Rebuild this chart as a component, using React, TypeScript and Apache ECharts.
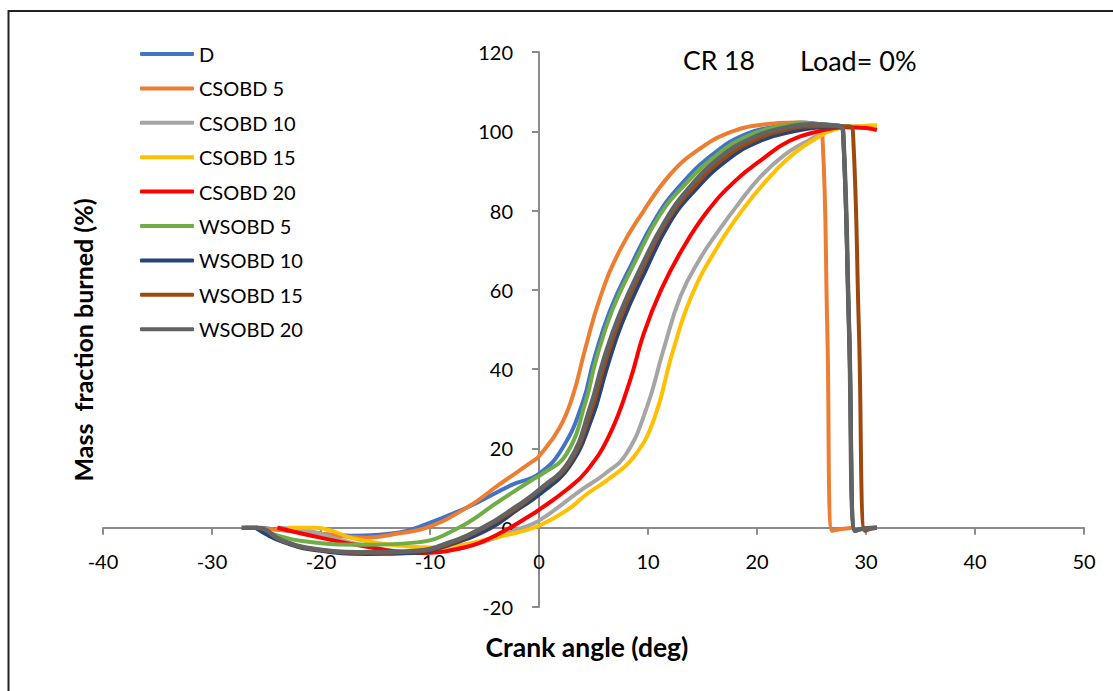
import React, { useEffect, useRef } from 'react';
import * as echarts from 'echarts';

// ---- Data (crank angle [deg], mass fraction burned [%]) ----
const SERIES_NAMES = ['D', 'CSOBD 5', 'CSOBD 10', 'CSOBD 15', 'CSOBD 20', 'WSOBD 5', 'WSOBD 10', 'WSOBD 15', 'WSOBD 20'];
const SERIES_COLORS = ['#4472C4', '#ED7D31', '#A5A5A5', '#FFC000', '#FF0000', '#70AD47', '#264478', '#9E480E', '#636363'];

const D_DATA: [number, number][] = [
  [-25.5, 0], [-22, -1], [-17.3, -2], [-12.8, -1.2], [-11.2, 0], [-6.6, 5.1], [-2.5, 10.8], [0, 13.6],
  [2.2, 20.3], [4.06, 32], [5, 42], [6.5, 54.7], [8.5, 66.5], [10.7, 78], [12.9, 86.2],
  [16, 94.3], [19, 99.3], [22.1, 101.4], [24, 102.2], [26, 101.8], [28, 101.3],
];
const CSOBD5_DATA: [number, number][] = [
  [-26, 0], [-20.4, -1.4], [-15.8, -2.5], [-12.8, -1.4], [-10.3, 0], [-6.6, 5.1], [-3.6, 11], [-0.5, 16.9],
  [0, 18], [1.9, 25.3], [3.15, 33.7], [4.2, 44.7], [5.6, 58], [7.4, 69.9], [9.5, 79.5], [12, 89],
  [14.5, 95.1], [17.5, 99.7], [20.6, 101.7], [23.6, 102.2], [25.5, 101.5], [26, 99],
  [26.45, 50], [26.9, -0.8], [27.6, -0.4], [28.8, 0],
];
const CSOBD10_DATA: [number, number][] = [
  [-24, 0], [-21, -0.8], [-19, -2.5], [-16, -4.5], [-12, -6], [-8, -5.5], [-5, -3.5], [-2, -0.5],
  [0, 1.8], [3.76, 9.3], [6, 13.5], [8, 18.6], [9.9, 30.4], [11.4, 44.7], [13, 58.5], [14.8, 68],
  [16.5, 75], [18.1, 81], [20.3, 88.5], [22.5, 94], [24.6, 97.5], [27.6, 101], [29.5, 101.3], [31, 101.3],
];
const CSOBD15_DATA: [number, number][] = [
  [-23, 0], [-20.5, 0], [-19, -0.8], [-17.3, -2.5], [-15, -3.8], [-12.8, -4.5], [-10, -5], [-7, -4.3],
  [-4.5, -2.8], [-2, -1.2], [0, 0.5], [2.5, 4.3], [4.4, 8.5], [6.5, 12.5], [8.65, 17.7], [10.5, 27],
  [12.3, 44.7], [14, 58.5], [16.3, 70.5], [18.9, 81], [21, 88], [23, 93.5], [25, 97.5],
  [27.6, 100.8], [29.5, 101.3], [31, 101.5],
];
const CSOBD20_DATA: [number, number][] = [
  [-24, 0], [-20.4, -2.3], [-15.8, -4.8], [-11.2, -6.4], [-6.6, -4.8], [-3.6, -1.4], [-0.5, 3.6], [0, 4.5],
  [2.5, 9.5], [4.4, 14.4], [6.5, 23.6], [8.35, 37.1], [9.6, 48.9], [11.2, 60], [13.2, 70.5],
  [15.5, 80], [18, 87.5], [20.5, 93], [23, 97.6], [25.8, 100.1], [28, 101], [30, 100.8], [31, 100.3],
];
const WSOBD5_DATA: [number, number][] = [
  [-26, 0], [-21.9, -3.3], [-15.8, -4.3], [-11.2, -3.7], [-7.5, -0.2], [-3.6, 6.8], [-0.5, 12.3], [0, 13],
  [2.5, 18.5], [4.3, 32], [5.2, 42], [6.7, 54.7], [8.8, 67], [11, 78.5], [13.2, 86],
  [16.3, 94], [19.3, 99], [22.4, 101.4], [24.5, 102], [26.5, 101.6], [27.6, 101.3], [27.9, 100],
  [28.45, 50], [29, -0.8], [29.5, -0.3], [31, 0],
];
const WSOBD10_DATA: [number, number][] = [
  [-26, 0], [-23.5, -3.6], [-20.4, -5.7], [-15.8, -6.6], [-11.2, -6.3], [-8.2, -4.3], [-4.5, -0.2], [-2, 4.5],
  [0, 8.3], [2.8, 15.5], [4.9, 28], [6.2, 40], [7.6, 51.5], [9.8, 65], [12, 77],
  [14.2, 84.8], [17.2, 92.6], [20.3, 97.6], [23.6, 100.1], [25.8, 101], [27.6, 101.2], [27.9, 100],
  [28.45, 50], [29, -0.8], [29.5, -0.3], [31, 0],
];
const WSOBD15_DATA: [number, number][] = [
  [-27, 0], [-25.9, 0], [-23.5, -3.4], [-20.4, -5.5], [-15.8, -6.3], [-11.2, -6], [-8.2, -4], [-5, 0],
  [-2, 5], [0, 9.3], [2.8, 16.3], [4.8, 29.5], [6, 41], [7.5, 53], [9.6, 66],
  [11.8, 77.5], [13.9, 85], [16.9, 93], [20, 98], [23, 100.6], [25.5, 101.3], [28.4, 101.3], [28.8, 100],
  [29.35, 50], [29.9, -0.8], [30.4, -0.3], [31, 0],
];
const WSOBD20_DATA: [number, number][] = [
  [-27.3, 0], [-25.9, 0], [-23.5, -3.3], [-20.4, -5.4], [-15.8, -6.2], [-11.2, -5.8], [-8.2, -3.7], [-5.1, 0.1],
  [-2, 5.5], [0, 9.5], [2.8, 16.9], [4.7, 30.4], [5.9, 42.1], [7.4, 53.9], [9.5, 66.5],
  [11.5, 77], [13.55, 85], [16.6, 93.4], [19.7, 98.5], [22.7, 101], [25, 101.8],
  [27.5, 101.4], [27.9, 100], [28.45, 50], [29, -0.8], [29.6, -0.3], [31, 0],
];
const SERIES_DATA = [D_DATA, CSOBD5_DATA, CSOBD10_DATA, CSOBD15_DATA, CSOBD20_DATA, WSOBD5_DATA, WSOBD10_DATA, WSOBD15_DATA, WSOBD20_DATA];

const X_MIN = -40;
const X_MAX = 50;
const X_STEP = 10;
const Y_MIN = -20;
const Y_MAX = 120;
const Y_STEP = 20;

const X_TITLE = 'Crank angle (deg)';
const Y_TITLE = 'Mass  fraction burned (%)';
const NOTE_CR = 'CR 18';
const NOTE_LOAD = 'Load= 0%';

const FONT = 'Lato, "Open Sans", "Liberation Sans", sans-serif';

export default function App() {
  const ref = useRef<HTMLDivElement>(null);

  useEffect(() => {
    if (!ref.current) return;
    const chart = echarts.init(ref.current, null, { renderer: 'svg' });
    const axisColor = '#8c8c8c';
    const gridLeft = 103;
    const gridRight = 29;
    const gridTop = 52;
    const gridBottom = 84;
    const plotW = 1113 - gridLeft - gridRight;
    const plotH = 691 - gridTop - gridBottom;
    // shift the axes so they cross at the data origin (labels move with them)
    const yAxisShift = ((0 - X_MIN) / (X_MAX - X_MIN)) * plotW;
    const xAxisShift = ((0 - Y_MIN) / (Y_MAX - Y_MIN)) * plotH;
    chart.setOption({
      animation: false,
      backgroundColor: '#ffffff',
      textStyle: { fontFamily: FONT, color: '#000' },
      grid: { left: gridLeft, right: gridRight, top: gridTop, bottom: gridBottom, containLabel: false },
      legend: {
        orient: 'vertical',
        left: 135,
        top: 39,
        itemWidth: 54,
        itemHeight: 4,
        itemGap: 14.4,
        icon: 'roundRect',
        textStyle: { fontFamily: FONT, fontSize: 20, color: '#000' },
        data: SERIES_NAMES,
      },
      xAxis: {
        type: 'value',
        min: X_MIN,
        max: X_MAX,
        interval: X_STEP,
        position: 'bottom',
        offset: -xAxisShift,
        axisLine: { onZero: false, lineStyle: { color: axisColor, width: 2 } },
        axisTick: { show: true, inside: false, length: 7, lineStyle: { color: axisColor, width: 2 } },
        axisLabel: { margin: 23, fontSize: 20, color: '#000', fontFamily: FONT },
        splitLine: { show: false },
      },
      yAxis: {
        type: 'value',
        min: Y_MIN,
        max: Y_MAX,
        interval: Y_STEP,
        position: 'left',
        offset: -yAxisShift,
        axisLine: { show: true, onZero: false, lineStyle: { color: axisColor, width: 2 } },
        axisTick: { show: true, inside: false, length: 7, lineStyle: { color: axisColor, width: 2 } },
        axisLabel: { margin: 26, fontSize: 20, color: '#000', fontFamily: FONT },
        splitLine: { show: false },
      },
      graphic: [
        {
          type: 'rect',
          shape: { x: 8.5, y: 11, width: 1200, height: 800 },
          style: { fill: 'none', stroke: '#222', lineWidth: 2 },
          silent: true,
        },
        {
          type: 'text',
          x: 587,
          y: 647,
          style: { text: X_TITLE, fontFamily: FONT, fontSize: 26.5, fontWeight: 'bold', fill: '#000', align: 'center', verticalAlign: 'middle' },
        },
        {
          type: 'text',
          x: 83,
          y: 340,
          rotation: Math.PI / 2,
          style: { text: Y_TITLE, fontFamily: FONT, fontSize: 25, fontWeight: 'bold', fill: '#000', align: 'center', verticalAlign: 'middle' },
        },
        {
          type: 'text',
          x: 683,
          y: 60,
          style: { text: NOTE_CR, fontFamily: FONT, fontSize: 26.5, fill: '#000', align: 'left', verticalAlign: 'middle' },
        },
        {
          type: 'text',
          x: 800,
          y: 60,
          style: { text: NOTE_LOAD, fontFamily: FONT, fontSize: 27, fill: '#000', align: 'left', verticalAlign: 'middle' },
        },
      ],
      series: SERIES_NAMES.map((name, i) => ({
        name,
        type: 'line',
        data: SERIES_DATA[i],
        symbol: 'none',
        showSymbol: false,
        smooth: 0.45,
        color: SERIES_COLORS[i],
        lineStyle: { color: SERIES_COLORS[i], width: i === 8 ? 4.5 : 4 },
      })),
    });
    return () => chart.dispose();
  }, []);

  return <div ref={ref} style={{ position: 'absolute', left: 0, top: 0, width: 1113, height: 691 }} />;
}
